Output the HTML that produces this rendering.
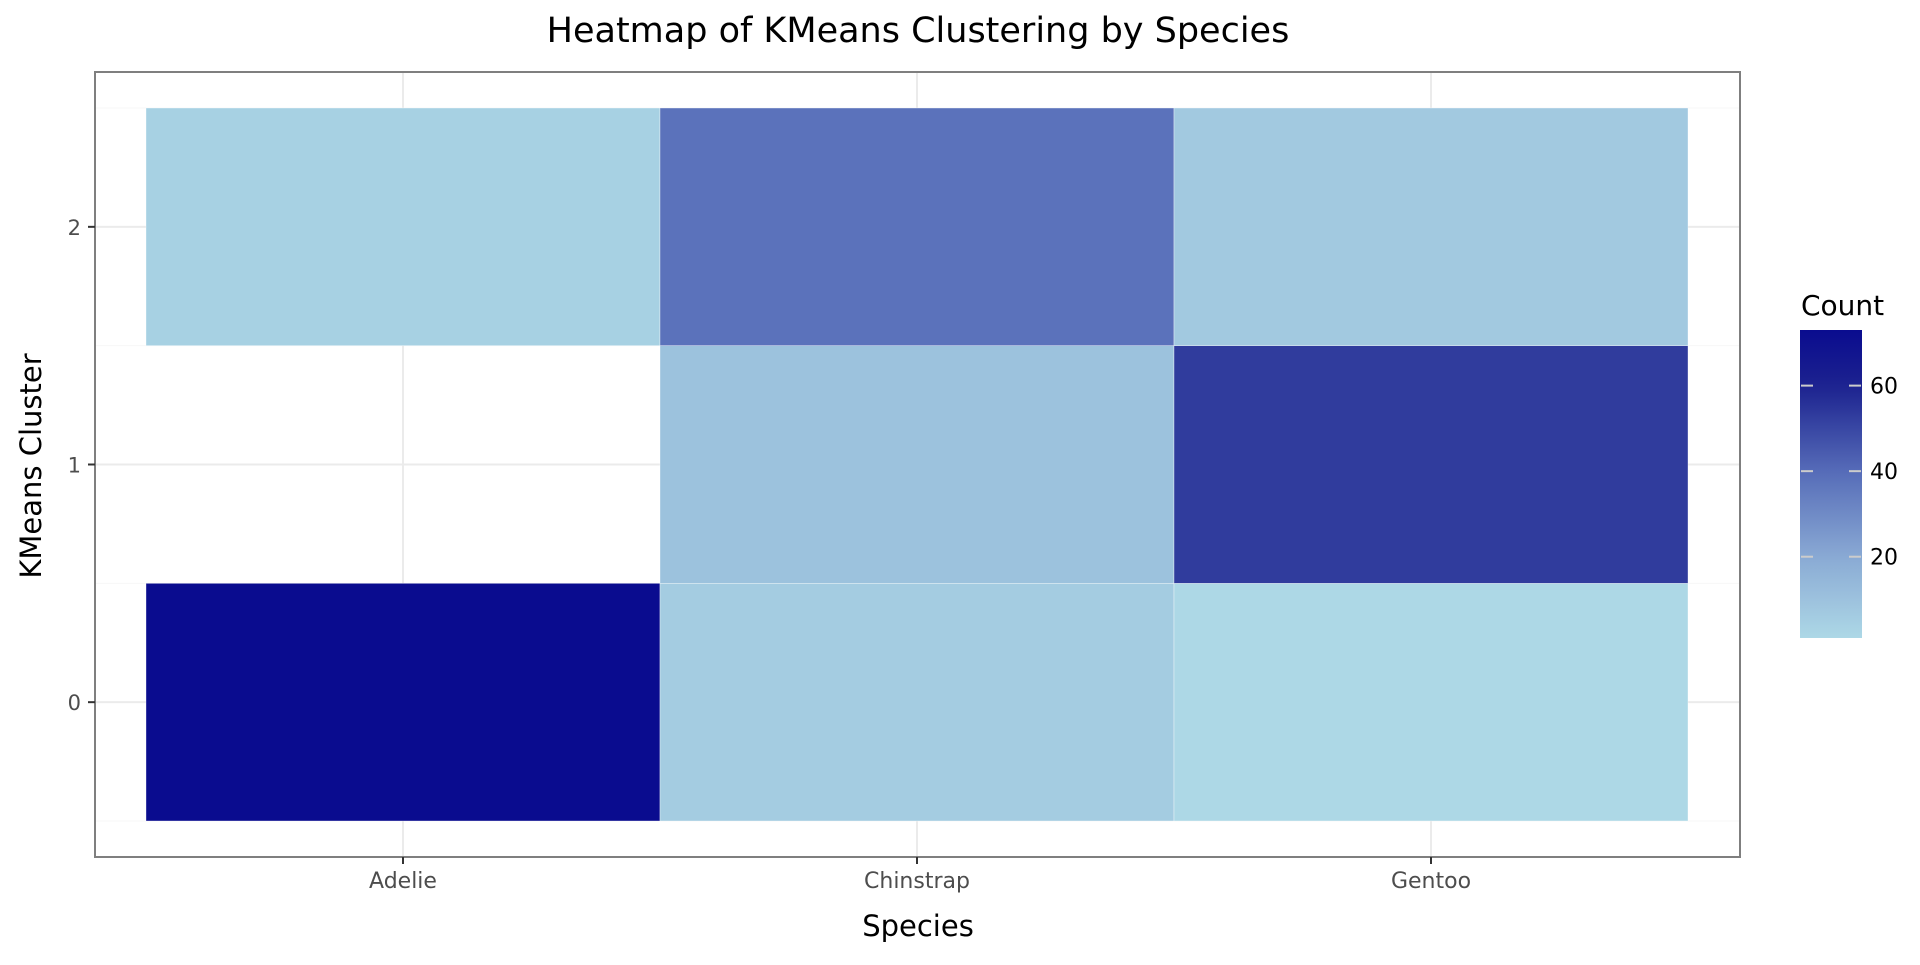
<!DOCTYPE html>
<html><head><meta charset="utf-8"><style>
html,body{margin:0;padding:0;background:#fff;}
svg text{font-family:"DejaVu Sans","Liberation Sans",sans-serif;}
</style></head><body>
<svg id="chart" width="1920" height="960" xmlns="http://www.w3.org/2000/svg">
<rect x="0" y="0" width="1920" height="960" fill="#fff"/>
<text x="918" y="42" font-size="35" text-anchor="middle" fill="#000">Heatmap of KMeans Clustering by Species</text>
<g id="grid"></g>
<g id="tiles"></g>
<rect x="95" y="72" width="1645" height="785" fill="none" stroke="#7f7f7f" stroke-width="2"/>
<g id="axes"></g>
<text x="918" y="936" font-size="29" text-anchor="middle" fill="#000">Species</text>
<text x="0" y="0" font-size="29" text-anchor="middle" fill="#000" transform="translate(41,466) rotate(-90)">KMeans Cluster</text>
<text x="1801" y="315" font-size="28" fill="#000">Count</text>
<defs><linearGradient id="cbgrad" x1="0" y1="1" x2="0" y2="0"></linearGradient></defs>
<g id="legend"></g>
</svg>
<script>
const species = ["Adelie", "Chinstrap", "Gentoo"];
const clusters = [0, 1, 2];
const cellSpecies = ["Adelie","Adelie","Chinstrap","Chinstrap","Chinstrap","Gentoo","Gentoo","Gentoo"];
const cellCluster = [0, 2, 0, 1, 2, 0, 1, 2];
const cellCount = [73, 4, 6, 10, 38, 1, 53, 7];
const legendTicks = [20, 40, 60];

const NS = "http://www.w3.org/2000/svg";
function mk(tag, attrs, parent){const e=document.createElementNS(NS,tag);for(const k in attrs)e.setAttribute(k,attrs[k]);parent.appendChild(e);return e;}
const x0=146, x1=1688, yTop=108, yBot=821;
const xs = v => x0 + (v + 0.5) * (x1 - x0) / species.length;
const ys = v => yBot - (v + 0.5) * (yBot - yTop) / clusters.length;
const bw = (x1 - x0) / species.length, bh = (yBot - yTop) / clusters.length;
const vmin = Math.min(...cellCount), vmax = Math.max(...cellCount);
const stops = [[0,[173,216,230]],[0.26,[138,170,212]],[0.54,[86,108,184]],[0.82,[28,34,143]],[1,[10,12,143]]];
function color(v){
  const t = (v - vmin) / (vmax - vmin);
  for(let i=1;i<stops.length;i++){
    if(t<=stops[i][0]){const a=stops[i-1],b=stops[i];const f=(t-a[0])/(b[0]-a[0]);
      const c=a[1].map((c0,j)=>Math.round(c0+(b[1][j]-c0)*f));return `rgb(${c[0]},${c[1]},${c[2]})`;}
  }
  return "rgb(10,12,143)";
}
const grid=document.getElementById("grid");
for(let k=-0.5;k<=clusters.length-0.5;k+=1){
  const l=mk("line",{x1:96,x2:1739,y1:ys(k),y2:ys(k),stroke:"#f7f7f7","stroke-width":1},grid);
  
  
}
clusters.forEach(c=>{
  const l=mk("line",{x1:96,x2:1739,y1:ys(c),y2:ys(c),stroke:"#ebebeb","stroke-width":2},grid);
  
  
});
species.forEach((s,i)=>{
  const l=mk("line",{x1:xs(i),x2:xs(i),y1:73,y2:856,stroke:"#ebebeb","stroke-width":2},grid);
  
  
});
const tiles=document.getElementById("tiles");
cellCount.forEach((v,i)=>{
  const si=species.indexOf(cellSpecies[i]);
  const r=mk("rect",{x:xs(si)-bw/2,y:ys(cellCluster[i])-bh/2,width:bw,height:bh,fill:color(v),stroke:"#ffffff","stroke-width":0.6,"stroke-opacity":0.6},tiles);
  
  
});
const axes=document.getElementById("axes");
clusters.forEach(c=>{
  const t=mk("line",{x1:88,x2:95,y1:ys(c),y2:ys(c),stroke:"#333","stroke-width":2},axes);
  
  
  const l=mk("text",{x:81,y:ys(c)+8,"font-size":21,"text-anchor":"end",fill:"#4d4d4d"},axes);
  l.textContent=c;
  
  
});
species.forEach((s,i)=>{
  const t=mk("line",{x1:xs(i),x2:xs(i),y1:857,y2:864,stroke:"#333","stroke-width":2},axes);
  
  
  const l=mk("text",{x:xs(i),y:888,"font-size":22,"text-anchor":"middle",fill:"#4d4d4d"},axes);
  l.textContent=s;
  
  
});
const grad=document.getElementById("cbgrad");
for(let k=0;k<=20;k++){
  const v=vmin+(vmax-vmin)*k/20;
  mk("stop",{offset:(k/20),"stop-color":color(v)},grad);
}
const legend=document.getElementById("legend");
const cbTop=330, cbBot=638, cbX=1800, cbW=62;
const cy = v => cbBot - (v - vmin) / (vmax - vmin) * (cbBot - cbTop);
const bar=mk("rect",{x:cbX,y:cbTop,width:cbW,height:cbBot-cbTop,fill:"url(#cbgrad)"},legend);


legendTicks.forEach(v=>{
  mk("line",{x1:cbX+1,x2:cbX+13,y1:cy(v),y2:cy(v),stroke:"#cccccc","stroke-width":2},legend);
  mk("line",{x1:cbX+cbW-13,x2:cbX+cbW-1,y1:cy(v),y2:cy(v),stroke:"#cccccc","stroke-width":2},legend);
  const l=mk("text",{x:cbX+cbW+8,y:cy(v)+8,"font-size":22,fill:"#000"},legend);
  l.textContent=v;
  
  
});
</script>
</body></html>
